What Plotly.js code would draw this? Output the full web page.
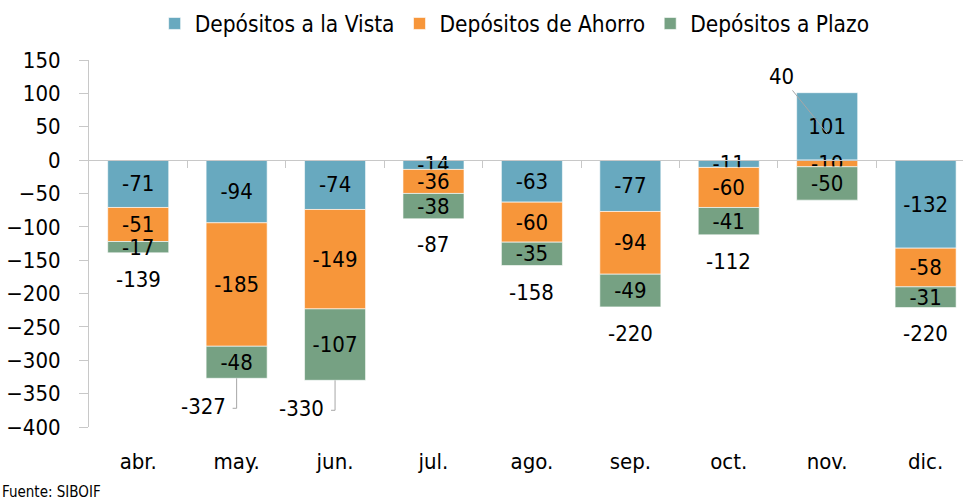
<!DOCTYPE html>
<html>
<head>
<meta charset="utf-8">
<script src="https://cdn.plot.ly/plotly-3.0.1.min.js"></script>
<style>html,body{margin:0;padding:0;background:#fff}#chart{width:963px;height:503px}</style>
</head>
<body>
<div id="chart"></div>
<script>
const categories = ['abr.','may.','jun.','jul.','ago.','sep.','oct.','nov.','dic.'];
const vista  = [-71, -94, -74, -14, -63, -77, -11, 101, -132];
const ahorro = [-51, -185, -149, -36, -60, -94, -60, -10, -58];
const plazo  = [-17, -48, -107, -38, -35, -49, -41, -50, -31];
const totals = [-139, -327, -330, -87, -158, -220, -112, 40, -220];
const seriesNames = ['Depósitos a la Vista','Depósitos de Ahorro','Depósitos a Plazo'];
const yTicks = [150,100,50,0,-50,-100,-150,-200,-250,-300,-350,-400];
const source = 'Fuente: SIBOIF';

const FONT = '"DejaVu Sans Condensed","Liberation Sans Narrow",sans-serif';
const colors = ['#68A9BF','#F7963A','#76A183'];
const leaderCats = ['may.','jun.'];
const arrowCats = ['nov.'];
const yRange = [-400, 150];
const xRange = [-0.5, 8.38];

function barTrace(vals, i){
  return {
    type:'bar', x:categories, y:vals, name:seriesNames[i],
    marker:{color:colors[i], line:{color:'rgba(255,255,255,0.6)', width:1}},
    text: vals.map(String), textposition:'inside', insidetextanchor:'middle',
    textangle:0, constraintext:'none', cliponaxis:false,
    textfont:{family:FONT, size:22, color:'#000'},
    hoverinfo:'x+y', width:0.62
  };
}
const data = [barTrace(vista,0), barTrace(ahorro,1), barTrace(plazo,2),
  {type:'scatter', x:[0], y:[null], xaxis:'x2', yaxis:'y', showlegend:false, hoverinfo:'skip', mode:'markers'}];

const annotations = [];
const shapes = [];
categories.forEach((c,i)=>{
  const t = totals[i];
  if (arrowCats.includes(c)) {
    annotations.push({x:c, y:t, xref:'x', yref:'y', text:String(t), showarrow:true,
      arrowhead:0, arrowwidth:1, arrowcolor:'#A6A6A6', ax:-46, ay:-57, standoff:0,
      font:{family:FONT, size:22, color:'#000'}});
  } else if (leaderCats.includes(c)) {
    annotations.push({x:c, y:t, xref:'x', yref:'y', text:String(t), showarrow:false,
      xanchor:'right', yanchor:'middle', xshift:-9, yshift:-28,
      font:{family:FONT, size:22, color:'#000'}});
    shapes.push({type:'path', xref:'x', yref:'y', xsizemode:'pixel', ysizemode:'pixel',
      xanchor:c, yanchor:t, path:'M0,0 V-30 H-4', line:{color:'#A6A6A6', width:1}});
  } else {
    annotations.push({x:c, y:t, xref:'x', yref:'y', text:String(t), showarrow:false,
      xanchor:'center', yanchor:'top', yshift:-12,
      font:{family:FONT, size:22, color:'#000'}});
  }
});
annotations.push({xref:'paper', yref:'paper', x:0, y:0, xshift:-89, yshift:-76,
  xanchor:'left', yanchor:'bottom', text:source, showarrow:false,
  font:{family:FONT, size:15, color:'#000'}});

const zeroPos = (0 - yRange[0])/(yRange[1]-yRange[0]);
const bounds = categories.slice(0,-1).map((_,i)=>i+0.5);

const layout = {
  width:963, height:503, margin:{l:89, r:0, t:60, b:76},
  paper_bgcolor:'#fff', plot_bgcolor:'#fff',
  barmode:'relative', bargap:0.38,
  font:{family:FONT, size:22, color:'#000'},
  showlegend:true,
  legend:{orientation:'h', x:0.487, xanchor:'center', y:1.04, yanchor:'bottom',
    font:{family:FONT, size:22.5, color:'#000'}, traceorder:'normal'},
  xaxis:{type:'category', range:xRange, showline:false, ticks:'', showgrid:false,
    zeroline:false, ticklabelstandoff:19, tickfont:{family:FONT, size:22}},
  xaxis2:{overlaying:'x', anchor:'free', position:zeroPos, type:'linear', range:xRange,
    tickmode:'array', tickvals:bounds, ticks:'outside', ticklen:7, tickcolor:'#C8C8C8',
    showline:true, linecolor:'#C8C8C8', linewidth:1, showticklabels:false,
    showgrid:false, zeroline:false, fixedrange:true},
  yaxis:{range:yRange, tickmode:'array', tickvals:yTicks, ticks:'outside', ticklen:9,
    tickcolor:'#C8C8C8', showline:true, linecolor:'#C8C8C8', showgrid:false,
    zeroline:false, ticklabelstandoff:14, tickfont:{family:FONT, size:22}},
  annotations, shapes
};
Plotly.newPlot('chart', data, layout, {displayModeBar:false, staticPlot:true});
</script>
</body>
</html>
